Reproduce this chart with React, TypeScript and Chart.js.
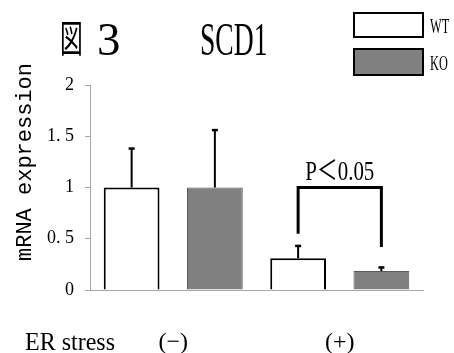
import React, { useEffect, useRef } from "react";
import { Chart, registerables } from "chart.js";

Chart.register(...registerables);

// ---- data ----
const categories = ["(−)", "(+)"];
const seriesNames = ["WT", "KO"];
const wtValues = [1.0, 0.31];
const koValues = [1.0, 0.185];
const wtErrors = [0.38, 0.12];
const koErrors = [0.56, 0.035];
const yTickLabels = ["0", "0. 5", "1", "1. 5", "2"];
const sigLabel = "P＜0.05";
const sigBracketValue = 1.0;
const sigLegEnds = [0.55, 0.42];
const titleMark = "図";
const titleNum = "3";
const titleGene = "SCD1";
const yAxisTitle = "mRNA expression";
const xAxisTitle = "ER stress";

const errorsBySeries = [wtErrors, koErrors];

function drawText(
  ctx: CanvasRenderingContext2D,
  text: string,
  x: number,
  baseline: number,
  font: string,
  sx: number,
  align: CanvasTextAlign = "left"
) {
  ctx.save();
  ctx.font = font;
  ctx.fillStyle = "#000";
  ctx.textBaseline = "alphabetic";
  ctx.textAlign = align;
  ctx.translate(x, baseline);
  ctx.scale(sx, 1);
  ctx.fillText(text, 0, 0);
  ctx.restore();
}

function fitScale(ctx: CanvasRenderingContext2D, text: string, font: string, width: number) {
  ctx.save();
  ctx.font = font;
  const w = ctx.measureText(text).width;
  ctx.restore();
  return w > 0 ? width / w : 1;
}

const decorPlugin = {
  id: "decor",
  afterDatasetsDraw(chart: any) {
    const ctx: CanvasRenderingContext2D = chart.ctx;
    const y = chart.scales.y;

    // error bars (upward only)
    chart.data.datasets.forEach((ds: any, di: number) => {
      const meta = chart.getDatasetMeta(di);
      meta.data.forEach((bar: any, i: number) => {
        const v = ds.data[i];
        const top = y.getPixelForValue(v + errorsBySeries[di][i]);
        ctx.save();
        ctx.strokeStyle = "#000";
        ctx.lineWidth = 2;
        ctx.beginPath();
        ctx.moveTo(bar.x, bar.y);
        ctx.lineTo(bar.x, top);
        ctx.stroke();
        ctx.lineWidth = 2.5;
        ctx.beginPath();
        ctx.moveTo(bar.x - 3, top);
        ctx.lineTo(bar.x + 3, top);
        ctx.stroke();
        ctx.restore();
      });
    });

    // significance bracket between WT(+) and KO(+)
    const xl = chart.getDatasetMeta(0).data[1].x;
    const xr = chart.getDatasetMeta(1).data[1].x;
    const yb = y.getPixelForValue(sigBracketValue);
    ctx.save();
    ctx.strokeStyle = "#000";
    ctx.lineWidth = 3;
    ctx.lineCap = "butt";
    ctx.beginPath();
    ctx.moveTo(xl, y.getPixelForValue(sigLegEnds[0]));
    ctx.lineTo(xl, yb);
    ctx.lineTo(xr, yb);
    ctx.lineTo(xr, y.getPixelForValue(sigLegEnds[1]));
    ctx.stroke();
    ctx.restore();
    const pFont = "27px 'Liberation Serif', 'Noto Sans CJK JP'";
    drawText(ctx, sigLabel, (xl + xr) / 2, yb - 8, pFont, fitScale(ctx, sigLabel, pFont, 69), "center");
  },
  afterDraw(chart: any) {
    const ctx: CanvasRenderingContext2D = chart.ctx;

    // titles
    drawText(ctx, titleMark, 60, 52, "38px 'Noto Sans CJK JP'", 0.6);
    drawText(ctx, titleNum, 97, 55, "47px 'Liberation Serif'", 1);
    drawText(ctx, titleGene, 200, 55, "46px 'Liberation Serif'", 0.6);

    // legend
    const boxes = [
      { top: 13, h: 24 },
      { top: 49, h: 26 },
    ];
    chart.data.datasets.forEach((ds: any, i: number) => {
      const b = boxes[i];
      ctx.save();
      ctx.fillStyle = ds.backgroundColor;
      ctx.fillRect(354, b.top, 69, b.h);
      ctx.strokeStyle = "#000";
      ctx.lineWidth = 2;
      ctx.strokeRect(354, b.top, 69, b.h);
      ctx.restore();
      drawText(ctx, ds.label, 430, b.top + b.h / 2 + 8, "22px 'Liberation Serif'", 0.56);
    });

    // y axis title
    ctx.save();
    ctx.font = "22px 'Liberation Mono'";
    ctx.fillStyle = "#000";
    ctx.textAlign = "center";
    ctx.textBaseline = "alphabetic";
    ctx.translate(31, 162);
    ctx.rotate(-Math.PI / 2);
    ctx.fillText(yAxisTitle, 0, 0);
    ctx.restore();

    // x axis title
    const xf = "26px 'Liberation Serif'";
    drawText(ctx, xAxisTitle, 25, 350, xf, fitScale(ctx, xAxisTitle, xf, 90));
  },
};

export default function App() {
  const ref = useRef<HTMLCanvasElement>(null);
  useEffect(() => {
    if (!ref.current) return;
    const chart = new Chart(ref.current, {
      type: "bar",
      data: {
        labels: categories,
        datasets: [
          {
            label: seriesNames[0],
            data: wtValues,
            backgroundColor: "#ffffff",
            borderColor: "#000000",
            borderWidth: 2,
            categoryPercentage: 1,
            barPercentage: 0.67,
          },
          {
            label: seriesNames[1],
            data: koValues,
            backgroundColor: "#808080",
            borderColor: "#5a5a5a",
            borderWidth: 1,
            categoryPercentage: 1,
            barPercentage: 0.67,
          },
        ],
      },
      options: {
        responsive: false,
        animation: false,
        layout: { padding: { top: 85, right: 31, left: 0, bottom: 0 } },
        plugins: {
          legend: { display: false },
          tooltip: { enabled: false },
          title: { display: false },
        },
        scales: {
          x: {
            grid: { display: false, drawTicks: false },
            border: { display: true, color: "#a8a8a8", width: 1 },
            ticks: {
              padding: 38,
              color: "#000",
              font: { family: "'Liberation Serif'", size: 24 },
            },
            afterFit: (s: any) => {
              s.height = 63;
            },
          },
          y: {
            min: 0,
            max: 2,
            grid: {
              display: true,
              drawOnChartArea: false,
              drawTicks: true,
              tickLength: 5,
              color: "#a8a8a8",
            },
            border: { display: true, color: "#a8a8a8", width: 1 },
            ticks: {
              stepSize: 0.5,
              padding: 11,
              color: "#000",
              font: { family: "'Liberation Serif'", size: 18 },
              callback: (_v: any, i: number) => yTickLabels[i],
            },
            afterFit: (s: any) => {
              s.width = 90;
            },
          },
        },
      },
      plugins: [decorPlugin],
    });
    return () => chart.destroy();
  }, []);
  return (
    <div style={{ position: "fixed", left: 0, top: 0, width: 454, height: 353, background: "#fff" }}>
      <canvas ref={ref} width={454} height={353} style={{ display: "block" }} />
    </div>
  );
}
